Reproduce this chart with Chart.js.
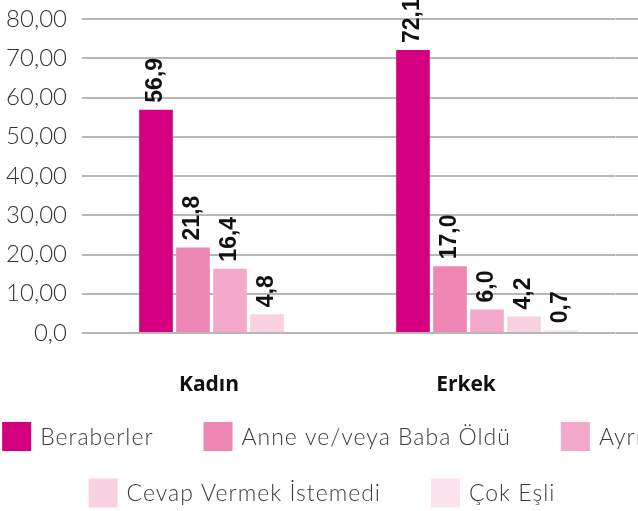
<!DOCTYPE html>
<html lang="tr">
<head>
<meta charset="utf-8">
<title>Beraberlik durumu</title>
<script src="https://cdn.jsdelivr.net/npm/chart.js@4/dist/chart.umd.min.js"></script>
<style>
  html, body { margin: 0; padding: 0; background: #fff; overflow: hidden; }
  canvas { display: block; }
</style>
</head>
<body>
<canvas id="c" width="638" height="511"></canvas>
<script>
// Categories and series values (percent)
const categories = ['Kadın', 'Erkek'];
const seriesNames = ['Beraberler', 'Anne ve/veya Baba Öldü', 'Ayrı', 'Cevap Vermek İstemedi', 'Çok Eşli'];
const beraberler = [56.9, 72.1];
const anneBabaOldu = [21.8, 17.0];
const ayri = [16.4, 6.0];
const cevapVermekIstemedi = [4.8, 4.2];
const cokEsli = [null, 0.7];
const yTickLabels = ['0,0', '10,00', '20,00', '30,00', '40,00', '50,00', '60,00', '70,00', '80,00'];

const seriesColors = ['#d5007f', '#ef87b5', '#f4a9cb', '#f9d2e2', '#fce4ee'];
const seriesValues = [beraberler, anneBabaOldu, ayri, cevapVermekIstemedi, cokEsli];
// Legend entries grouped into two lines
const legendRows = [[0, 1, 2], [3, 4]];

const GRID = '#b5b8b8';
const LIGHT_FONT = 'Lato, "Open Sans", sans-serif';

// Vertical value labels above each bar
const valueLabels = {
  id: 'valueLabels',
  afterDatasetsDraw(chart) {
    const ctx = chart.ctx;
    ctx.save();
    ctx.font = 'bold 23px "Liberation Sans", Arial, sans-serif';
    ctx.fillStyle = '#111';
    ctx.textAlign = 'left';
    ctx.textBaseline = 'middle';
    chart.data.datasets.forEach((ds, di) => {
      const meta = chart.getDatasetMeta(di);
      meta.data.forEach((bar, i) => {
        const v = ds.data[i];
        if (v === null || v === undefined) return;
        ctx.save();
        ctx.translate(bar.x, bar.y - 7);
        ctx.rotate(-Math.PI / 2);
        ctx.fillText(v.toFixed(1).replace('.', ','), 0, 0);
        ctx.restore();
      });
    });
    ctx.restore();
  }
};

// Legend laid out in centred rows below the axis
const rowLegend = {
  id: 'rowLegend',
  afterDraw(chart) {
    const ctx = chart.ctx;
    const box = 29, gapText = 9, gapItem = 50;
    const rowY = [436.5, 493];
    const centerX = 322;
    ctx.save();
    ctx.font = '300 23px ' + LIGHT_FONT;
    ctx.letterSpacing = '1px';
    ctx.textBaseline = 'middle';
    ctx.textAlign = 'left';
    legendRows.forEach((row, r) => {
      const widths = row.map(i => box + gapText + ctx.measureText(chart.data.datasets[i].label).width);
      const total = widths.reduce((a, b) => a + b, 0) + gapItem * (row.length - 1);
      let x = centerX - total / 2;
      row.forEach((i, k) => {
        const ds = chart.data.datasets[i];
        ctx.fillStyle = ds.backgroundColor;
        ctx.fillRect(x, rowY[r] - box / 2, box, box);
        ctx.fillStyle = '#3c3c3c';
        ctx.fillText(ds.label, x + box + gapText, rowY[r] + 1);
        x += widths[k] + gapItem;
      });
    });
    ctx.restore();
  }
};

new Chart(document.getElementById('c'), {
  type: 'bar',
  data: {
    labels: categories,
    datasets: seriesNames.map((name, i) => ({
      label: name,
      data: seriesValues[i],
      backgroundColor: seriesColors[i],
      borderWidth: 0,
      barPercentage: 0.91,
      categoryPercentage: 0.72
    }))
  },
  options: {
    responsive: false,
    animation: false,
    layout: { padding: { top: 19, left: 0, right: 0, bottom: 0 } },
    plugins: {
      legend: { display: false },
      tooltip: { enabled: false }
    },
    scales: {
      x: {
        grid: { display: false, drawTicks: false },
        border: { display: false },
        ticks: {
          padding: 39,
          labelOffset: -21,
          color: '#111',
          font: { family: '"Open Sans", sans-serif', size: 21, weight: 'bold' }
        },
        afterFit(s) { s.height = 178; }
      },
      y: {
        min: 0,
        max: 80,
        ticks: {
          stepSize: 10,
          padding: 15,
          color: '#333',
          font: { family: LIGHT_FONT, size: 24, weight: '300' },
          callback: (v, i) => yTickLabels[i]
        },
        grid: { color: GRID, lineWidth: 2, drawTicks: true, tickLength: 19.5 },
        border: { display: false },
        afterFit(s) {
          s.width = 101.5;
          s.paddingTop = 0;
          s.paddingBottom = 0;
        }
      },
      y2: {
        position: 'right',
        min: 0,
        max: 80,
        ticks: { display: false, stepSize: 10 },
        grid: { drawOnChartArea: false, color: GRID, lineWidth: 2, drawTicks: true, tickLength: 22.5 },
        border: { display: false },
        afterFit(s) {
          s.width = 22.5;
          s.paddingTop = 0;
          s.paddingBottom = 0;
        }
      }
    }
  },
  plugins: [valueLabels, rowLegend]
});
</script>
</body>
</html>
